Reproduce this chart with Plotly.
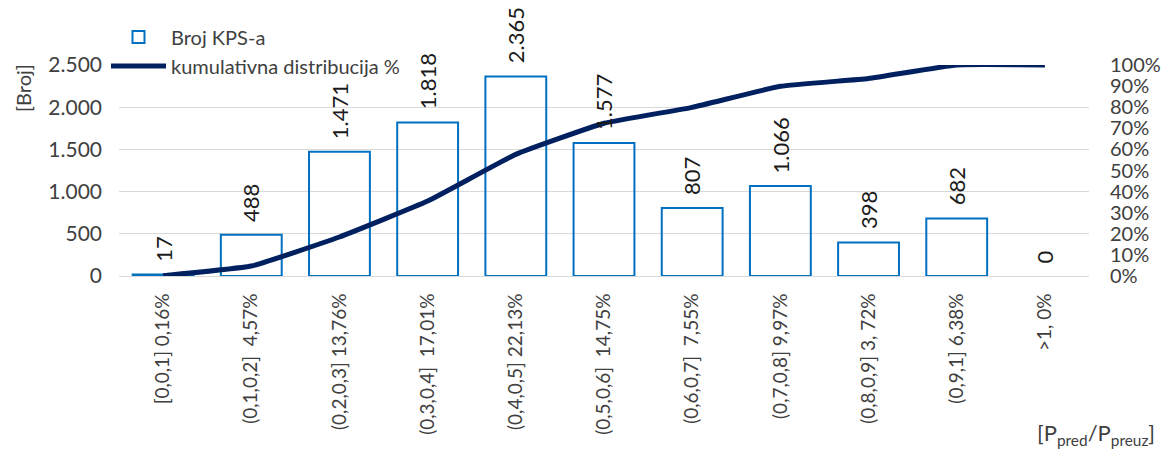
import plotly.graph_objects as go

categories = ["[0,0,1] 0,16%", "(0,1,0,2]  4,57%", "(0,2,0,3] 13,76%", "(0,3,0,4]  17,01%",
              "(0,4,0,5] 22,13%", "(0,5,0,6]  14,75%", "(0,6,0,7]  7,55%", "(0,7,0,8] 9,97%",
              "(0,8,0,9] 3, 72%", "(0,9,1] 6,38%", ">1, 0%"]
counts = [17, 488, 1471, 1818, 2365, 1577, 807, 1066, 398, 682, 0]
cumulative_pct = [0.16, 4.73, 18.49, 35.50, 57.63, 72.38, 79.93, 89.90, 93.62, 100.0, 100.0]

FONT = "Lato"
TXT = "#404040"

fig = go.Figure()
fig.add_trace(go.Bar(
    x=categories, y=counts, name="Broj KPS-a",
    marker=dict(color="rgba(255,255,255,0)",
                line=dict(color="#0070C0", width=[2 if v > 0 else 0 for v in counts])),
    width=0.69,
))
fig.add_trace(go.Scatter(
    x=categories, y=[v / 100 for v in cumulative_pct], name="kumulativna distribucija %",
    mode="lines", line=dict(color="#002060", width=5, shape="spline", smoothing=0.35),
    yaxis="y2",
))

def fmt(v):
    return f"{v:,}".replace(",", ".")

for c, v in zip(categories, counts):
    fig.add_annotation(x=c, y=v, xref="x", yref="y", text=fmt(v), showarrow=False,
                       textangle=-90, yanchor="bottom", xanchor="center", yshift=11,
                       font=dict(family=FONT, size=22, color="#1a1a1a"))

fig.add_annotation(x=-0.099, y=1.014, xref="paper", yref="paper", text="[Broj]",
                   showarrow=False, textangle=-90, xanchor="center", yanchor="top",
                   font=dict(family=FONT, size=20, color=TXT))
fig.add_annotation(x=1.07, y=-0.67, xref="paper", yref="paper",
                   text="[P<sub>pred</sub>/P<sub>preuz</sub>]",
                   showarrow=False, xanchor="right", yanchor="top",
                   font=dict(family=FONT, size=22, color=TXT))

fig.update_layout(
    width=1170, height=457,
    margin=dict(l=111, r=89, t=57, b=189, autoexpand=False),
    plot_bgcolor="white", paper_bgcolor="white",
    separators=",.",
    font=dict(family=FONT, size=20, color=TXT),
    showlegend=True,
    legend=dict(x=-0.0134, y=1.225, xanchor="left", yanchor="top", bgcolor="rgba(0,0,0,0)",
                font=dict(family=FONT, size=20, color=TXT), tracegroupgap=0,
                itemwidth=55),
    xaxis=dict(tickangle=-90, tickfont=dict(family=FONT, size=19, color=TXT),
               showgrid=False, showline=True, linecolor="#d9d9d9", linewidth=1,
               ticks="", ticklabelstandoff=9),
    yaxis=dict(range=[0, 2500], dtick=500, tickformat=",d", showgrid=True,
               gridcolor="#d9d9d9", gridwidth=1, zeroline=False, ticks="",
               tickfont=dict(family=FONT, size=21, color=TXT), ticklabelstandoff=16),
    yaxis2=dict(range=[0, 1], dtick=0.1, tickformat=".0%", overlaying="y", side="right",
                showgrid=False, zeroline=False, ticks="",
                tickfont=dict(family=FONT, size=20, color=TXT), ticklabelstandoff=20),
    bargap=0.31,
)

fig.write_html("out.html")
